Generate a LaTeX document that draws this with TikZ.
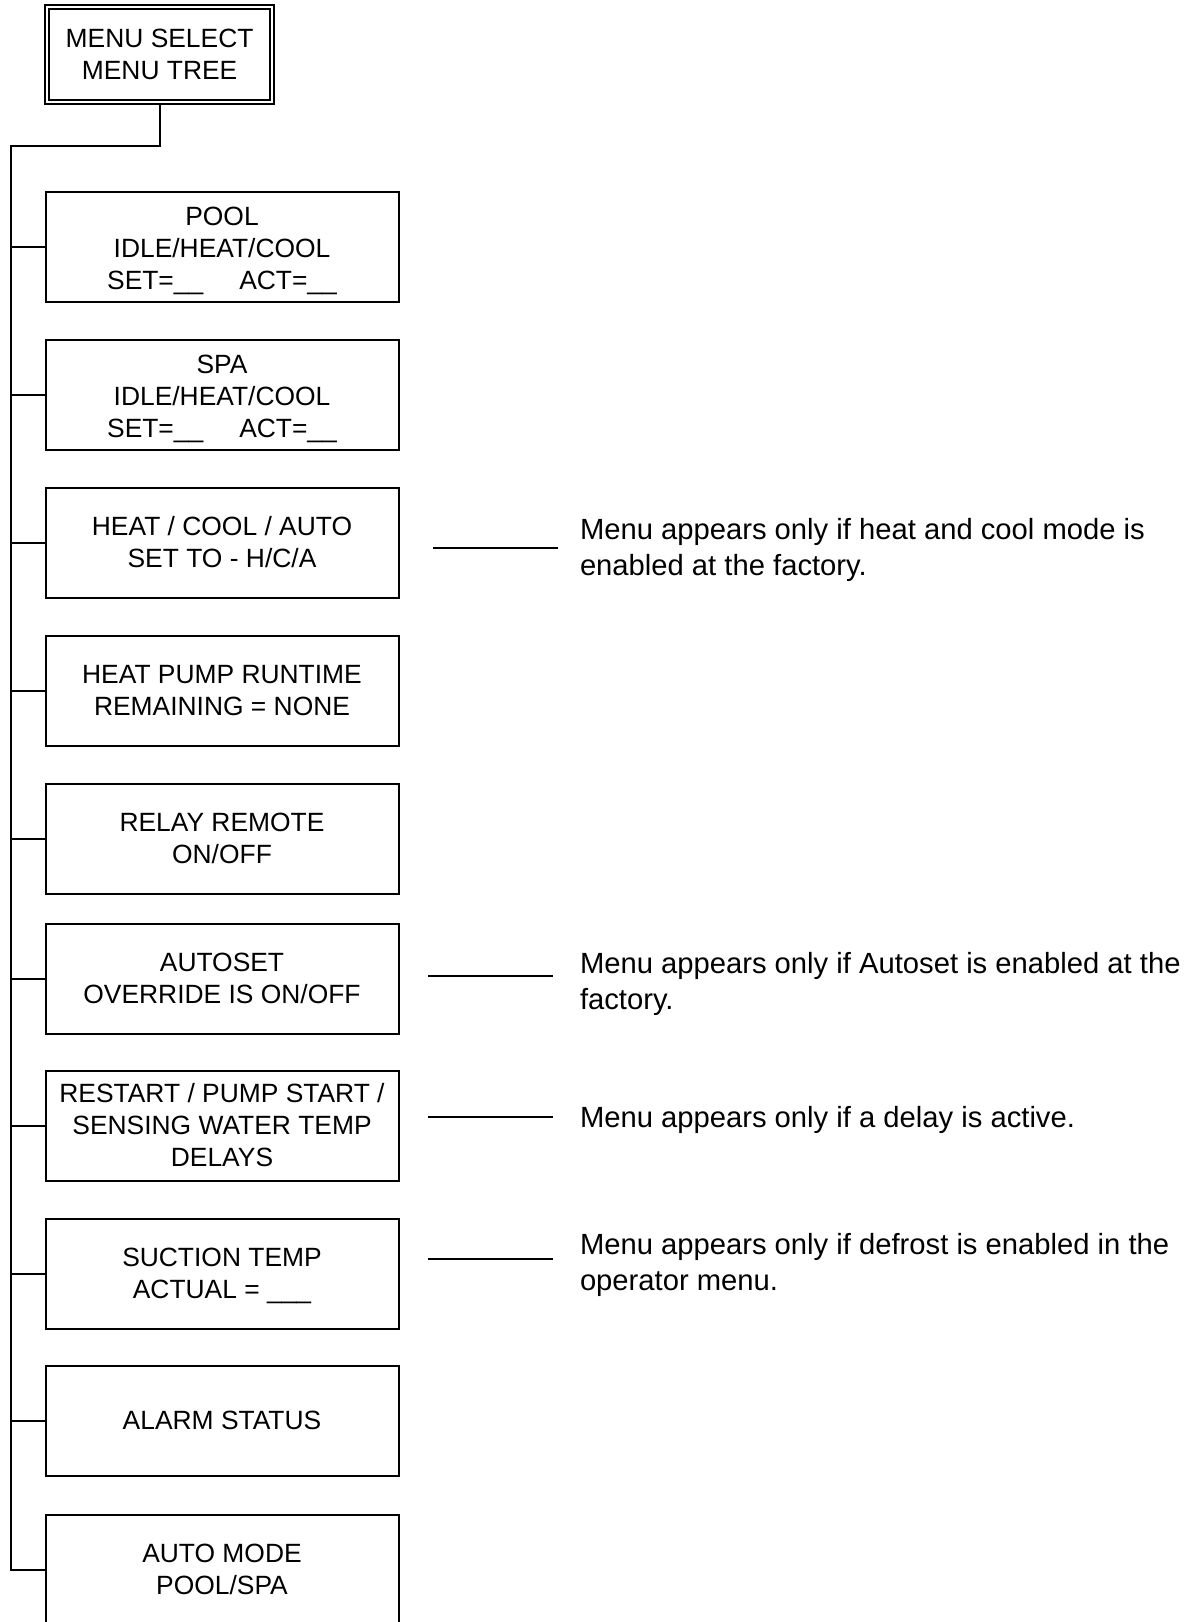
\documentclass[tikz,border=0pt]{standalone}
\usepackage{fontspec}
\setmainfont{Liberation Sans}
\tikzset{
  menubox/.style={draw,double,line width=0.9pt,double distance=1pt,minimum width=112.5pt,minimum height=47.5pt,align=center,inner sep=0pt,font=\fontsize{13.2}{16}\selectfont},
  treebox/.style={draw,line width=1pt,minimum width=176.5pt,minimum height=55pt,align=center,inner sep=0pt,font=\fontsize{13.2}{16}\selectfont},
  notetext/.style={anchor=west,align=left,inner sep=0pt,font=\fontsize{14.6}{18}\selectfont},
  noteline/.style={line width=1pt},
}
\begin{document}
\begin{tikzpicture}[x=0.5pt,y=-0.5pt,line width=1pt]
\useasboundingbox (0,0) rectangle (1185,1622);
\node[menubox] (menu) at (159.6,54.7) {MENU SELECT\\MENU TREE};
\node[treebox] (pool) at (222,246.5) {\rule{0pt}{11.6pt}POOL\\IDLE/HEAT/COOL\\SET=\smash{\_\_}\hspace{18pt}ACT=\smash{\_\_}};
\node[treebox] (spa) at (222,394.5) {\rule{0pt}{11.6pt}SPA\\IDLE/HEAT/COOL\\SET=\smash{\_\_}\hspace{18pt}ACT=\smash{\_\_}};
\node[treebox] (hca) at (222,542.5) {HEAT / COOL / AUTO\\SET TO - H/C/A};
\node[treebox] (runtime) at (222,690.5) {HEAT PUMP RUNTIME\\REMAINING = NONE};
\node[treebox] (relay) at (222,838.5) {RELAY REMOTE\\ON/OFF};
\node[treebox] (autoset) at (222,978.5) {AUTOSET\\OVERRIDE IS ON/OFF};
\node[treebox] (delays) at (222,1125.5) {RESTART / PUMP START /\\SENSING WATER TEMP\\DELAYS};
\node[treebox] (suction) at (222,1273.5) {SUCTION TEMP\\ACTUAL = \smash{\_\_\_}};
\node[treebox] (alarm) at (222,1420.5) {ALARM STATUS};
\node[treebox] (automode) at (222,1569.5) {AUTO MODE\\POOL/SPA};
% notes on the right
\node[notetext] (notehca) at (579,549.5) {Menu appears only if heat and cool mode is\\enabled at the factory.};
\node[notetext] (noteautoset) at (579,983.5) {Menu appears only if Autoset is enabled at the\\factory.};
\node[notetext] (notedelays) at (579,1120) {Menu appears only if a delay is active.};
\node[notetext] (notesuction) at (579,1264.5) {Menu appears only if defrost is enabled in the\\operator menu.};
\coordinate (endhca) at (558,548);
\coordinate (endautoset) at (553,976);
\coordinate (enddelays) at (553,1117);
\coordinate (endsuction) at (553,1259);
\draw[noteline,shorten <=16.75pt] (hca.east |- endhca) -- (endhca);
\foreach \n in {autoset,delays,suction}
  \draw[noteline,shorten <=14.25pt] (\n.east |- end\n) -- (end\n);
% tree
\coordinate (corner) at (11,146);
\draw (menu.south) |- (corner) -- (corner |- automode.west) -- (automode.west);
\foreach \b in {pool,spa,hca,runtime,relay,autoset,delays,suction,alarm}
  \draw (corner |- \b.west) -- (\b.west);
\end{tikzpicture}
\end{document}
